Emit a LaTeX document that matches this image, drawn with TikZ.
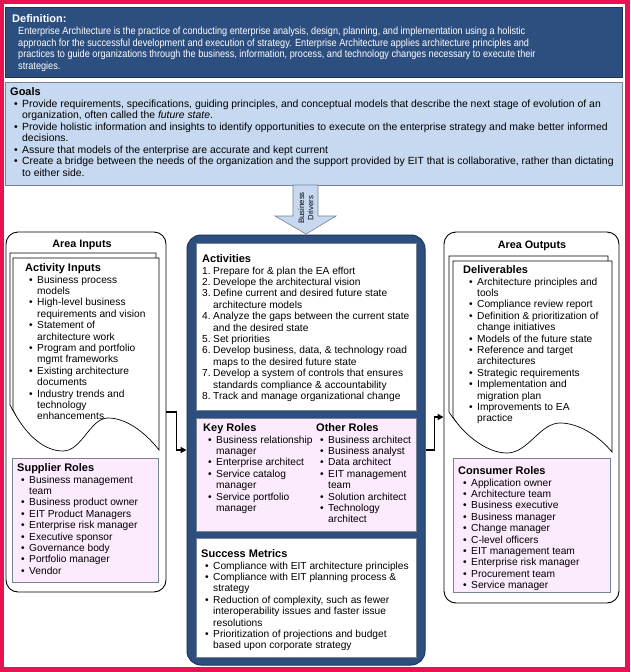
\documentclass[tikz,border=0pt]{standalone}
\usepackage{fontspec}
\setmainfont{Liberation Sans}
\newfontfamily\narrowfont[FakeStretch=0.88]{Liberation Sans}
\usetikzlibrary{arrows.meta}
\definecolor{pinkb}{RGB}{232,18,82}
\definecolor{navy}{RGB}{44,79,128}
\definecolor{navyd}{RGB}{28,52,90}
\definecolor{lblue}{RGB}{198,217,240}
\definecolor{lpink}{RGB}{252,235,252}
\definecolor{gline}{RGB}{120,130,145}
\newlength\bind \newlength\bgap
\newcommand\B{\hspace*{\bind}\makebox[\bgap][l]{\textbullet}}
\newcommand\C{\hspace*{\bind}\hspace*{\bgap}}
\newcommand\NN[1]{\makebox[11pt][l]{#1}}
\newcommand\NC{\hspace*{11pt}}
\newcommand\ttl[1]{{\fontsize{11}{11.4}\selectfont\bfseries #1}}
\begin{document}
\begin{tikzpicture}[x=1pt,y=-1pt,
  txt/.style={anchor=north west, inner sep=0pt, align=left, font=\fontsize{10.2}{11.4}\selectfont},
  lst/.style 2 args={txt, execute at begin node={\setlength\bind{#1pt}\setlength\bgap{#2pt}\rule{0pt}{8pt}}},
  box/.style={draw=gline, line width=0.6pt, inner sep=0pt},
  areabox/.style={draw=black, line width=0.9pt, fill=white, rounded corners=12pt, inner sep=0pt},
  page/.style={draw=black, line width=0.7pt, fill=white},
  conn/.style={draw=black, line width=1.4pt, -{Triangle[length=6pt,width=6pt]}},
]
% background and frame
\fill[pinkb] (0,0) rectangle (630,672);
\fill[white] (4,4) rectangle (625,667);
\useasboundingbox (0,0) rectangle (630,672);

% definition
\node[box, draw=navyd, fill=navy, minimum width=617pt, minimum height=70pt] (def) at (313.5,42) {};
\node[txt, text=white, font=\fontsize{10.4}{11.75}\selectfont] (deftext) at (12,14.5) {\rule{0pt}{8pt}\ttl{Definition:}\\
{\narrowfont\hspace*{6pt}Enterprise Architecture is the practice of conducting enterprise analysis, design, planning, and implementation using a holistic}\\
{\narrowfont\hspace*{6pt}approach for the successful development and execution of strategy. Enterprise Architecture applies architecture principles and}\\
{\narrowfont\hspace*{6pt}practices to guide organizations through the business, information, process, and technology changes necessary to execute their}\\
{\narrowfont\hspace*{6pt}strategies.}};

% goals
\node[box, fill=lblue, minimum width=617pt, minimum height=103pt] (goals) at (313.5,133.5) {};
\node[lst={4}{8}, font=\fontsize{10.4}{11.5}\selectfont] (goaltext) at (10,87.5) {\ttl{Goals}\\
\B Provide requirements, specifications, guiding principles, and conceptual models that describe the next stage of evolution of an\\
\C organization, often called the \textit{future state}.\\
\B Provide holistic information and insights to identify opportunities to execute on the enterprise strategy and make better informed\\
\C decisions.\\
\B Assure that models of the enterprise are accurate and kept current\\
\B Create a bridge between the needs of the organization and the support provided by EIT that is collaborative, rather than dictating\\
\C to either side.};

% business drivers arrow
\draw[gline, line width=0.6pt, fill=lblue] (293,185) -- (318,185) -- (318,216) -- (336,216) -- (306,234) -- (275,216) -- (293,216) -- cycle;
\node[rotate=90, align=center, inner sep=0pt, font=\fontsize{7.8}{9.2}\selectfont] (drivers) at (306,208) {Business\\Drivers};

% area inputs
\node[areabox, minimum width=160pt, minimum height=360pt] (inputs) at (86,412) {};
\node[inner sep=0pt, font=\fontsize{10.8}{12}\selectfont\bfseries] (intitle) at (82,245) {Area Inputs};
\begin{scope}[shift={(-3,-5)}]
\draw[page] (13,410) -- (13,258) -- (159,258) -- (159,450) .. controls (145,432) and (126,418) .. (108,418) .. controls (90,418) and (82,451) .. (63,451) .. controls (40,451) and (22,428) .. (13,410) -- cycle;
\end{scope}
\draw[page] (13,410) -- (13,258) -- (159,258) -- (159,450) .. controls (145,432) and (126,418) .. (108,418) .. controls (90,418) and (82,451) .. (63,451) .. controls (40,451) and (22,428) .. (13,410) -- cycle;
\node[lst={4}{8}] (actin) at (25,263.5) {\ttl{Activity Inputs}\\
\B Business process\\
\C models\\
\B High-level business\\
\C requirements and vision\\
\B Statement of\\
\C architecture work\\
\B Program and portfolio\\
\C mgmt frameworks\\
\B Existing architecture\\
\C documents\\
\B Industry trends and\\
\C technology\\
\C enhancements};
\node[box, fill=lpink, minimum width=146pt, minimum height=124pt] (supplier) at (85,520) {};
\node[lst={4}{8}] (suptext) at (17,463.5) {\ttl{Supplier Roles}\\
\B Business management\\
\C team\\
\B Business product owner\\
\B EIT Product Managers\\
\B Enterprise risk manager\\
\B Executive sponsor\\
\B Governance body\\
\B Portfolio manager\\
\B Vendor};

% area outputs
\node[areabox, minimum width=175pt, minimum height=371pt] (outputs) at (531.5,417.5) {};
\node[inner sep=0pt, font=\fontsize{10.8}{12}\selectfont\bfseries] (outtitle) at (532,246) {Area Outputs};
\begin{scope}[shift={(-4,-5)}]
\draw[page] (453,417) -- (453,261) -- (612,261) -- (612,452) .. controls (598,435) and (578,423) .. (560,423) .. controls (540,423) and (528,453) .. (507,453) .. controls (485,453) and (462,432) .. (453,417) -- cycle;
\end{scope}
\draw[page] (453,417) -- (453,261) -- (612,261) -- (612,452) .. controls (598,435) and (578,423) .. (560,423) .. controls (540,423) and (528,453) .. (507,453) .. controls (485,453) and (462,432) .. (453,417) -- cycle;
\node[lst={6}{8}] (deliv) at (463,265.5) {\ttl{Deliverables}\\
\B Architecture principles and\\
\C tools\\
\B Compliance review report\\
\B Definition \& prioritization of\\
\C change initiatives\\
\B Models of the future state\\
\B Reference and target\\
\C architectures\\
\B Strategic requirements\\
\B Implementation and\\
\C migration plan\\
\B Improvements to EA\\
\C practice};
\node[box, fill=lpink, minimum width=157pt, minimum height=134pt] (consumer) at (531.5,525) {};
\node[lst={5}{8}] (context) at (458,466.5) {\ttl{Consumer Roles}\\
\B Application owner\\
\B Architecture team\\
\B Business executive\\
\B Business manager\\
\B Change manager\\
\B C-level officers\\
\B EIT management team\\
\B Enterprise risk manager\\
\B Procurement team\\
\B Service manager};

% center
\node[draw=navyd, line width=1pt, fill=navy, rounded corners=14pt, minimum width=238pt, minimum height=430pt, inner sep=0pt] (core) at (306,450) {};
\node[box, fill=white, minimum width=220pt, minimum height=167pt] (act) at (306,326.5) {};
\node[box, fill=lpink, minimum width=220pt, minimum height=113pt] (roles) at (306,474.5) {};
\node[box, fill=white, minimum width=220pt, minimum height=119pt] (metrics) at (306,597.5) {};
\node[lst={0}{0}] (acttext) at (202,254.5) {\ttl{Activities}\\
\NN{1.}Prepare for \& plan the EA effort\\
\NN{2.}Develope the architectural vision\\
\NN{3.}Define current and desired future state\\
\NC architecture models\\
\NN{4.}Analyze the gaps between the current state\\
\NC and the desired state\\
\NN{5.}Set priorities\\
\NN{6.}Develop business, data, \& technology road\\
\NC maps to the desired future state\\
\NN{7.}Develop a system of controls that ensures\\
\NC standards compliance \& accountability\\
\NN{8.}Track and manage organizational change};
\node[lst={5}{8}] (keytext) at (203,423.5) {\ttl{Key Roles}\\
\B Business relationship\\
\C manager\\
\B Enterprise architect\\
\B Service catalog\\
\C manager\\
\B Service portfolio\\
\C manager};
\node[lst={4}{8}] (othtext) at (316,423.5) {\ttl{Other Roles}\\
\B Business architect\\
\B Business analyst\\
\B Data architect\\
\B EIT management\\
\C team\\
\B Solution architect\\
\B Technology\\
\C architect};
\node[lst={4}{8}] (mettext) at (201,549.5) {\ttl{Success Metrics}\\
\B Compliance with EIT architecture principles\\
\B Compliance with EIT planning process \&\\
\C strategy\\
\B Reduction of complexity, such as fewer\\
\C interoperability issues and faster issue\\
\C resolutions\\
\B Prioritization of projections and budget\\
\C based upon corporate strategy};

% connectors
\path (0,412) coordinate (y412) (0,450) coordinate (y450) (0,417) coordinate (y417);
\draw[conn] (inputs.east |- y412) -- ++(10,0) |- (core.west |- y450);
\draw[conn] (core.east |- y450) -- ++(9,0) |- (outputs.west |- y417);
\end{tikzpicture}
\end{document}
